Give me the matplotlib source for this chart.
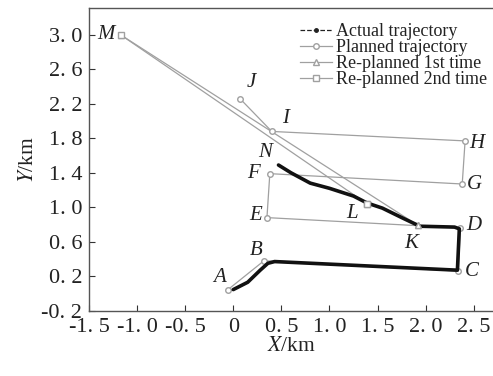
import matplotlib
matplotlib.use("Agg")
import matplotlib.pyplot as plt
from matplotlib.lines import Line2D

# waypoints (km)
planned_x = [-0.06, 0.32, 2.34, 2.36, 0.35, 0.38, 2.38, 2.41, 0.40, 0.07]
planned_y = [0.04, 0.38, 0.26, 0.76, 0.88, 1.39, 1.27, 1.77, 1.88, 2.26]

replan1_x = [1.92, -1.17]   # K -> M
replan1_y = [0.79, 3.00]
replan2_x = [1.39, -1.17]   # L -> M
replan2_y = [1.04, 3.00]

actual_x = [0.00, 0.15, 0.28, 0.36, 0.43, 2.33, 2.35, 2.30, 1.94, 1.77, 1.55,
            1.39, 1.25, 1.00, 0.80, 0.60, 0.47]
actual_y = [0.045, 0.13, 0.27, 0.35, 0.37, 0.27, 0.75, 0.77, 0.78, 0.87, 0.99,
            1.05, 1.13, 1.22, 1.28, 1.40, 1.49]

point_names = ["A", "B", "C", "D", "E", "F", "G", "H", "I", "J", "K", "L", "M", "N"]
name_x = [-0.14, 0.24, 2.48, 2.50, 0.23, 0.21, 2.51, 2.53, 0.54, 0.19, 1.85, 1.23, -1.32, 0.33]
name_y = [0.18, 0.50, 0.25, 0.79, 0.90, 1.39, 1.26, 1.74, 2.03, 2.45, 0.58, 0.93, 3.00, 1.63]

xticks = [-1.5, -1.0, -0.5, 0, 0.5, 1.0, 1.5, 2.0, 2.5]
xtick_labels = ["-1. 5", "-1. 0", "-0. 5", "0", "0. 5", "1. 0", "1. 5", "2. 0", "2. 5"]
yticks = [-0.2, 0.2, 0.6, 1.0, 1.4, 1.8, 2.2, 2.6, 3.0]
ytick_labels = ["-0. 2", "0. 2", "0. 6", "1. 0", "1. 4", "1. 8", "2. 2", "2. 6", "3. 0"]

plt.rcParams['font.family'] = ['Liberation Serif', 'DejaVu Serif']
plt.rcParams['mathtext.fontset'] = 'stix'

fig = plt.figure(figsize=(4.93, 3.76), dpi=100)
ax = fig.add_axes([0.1805, 0.1737, 0.8195, 0.805])

gray = '#a0a0a0'
ms = 4
ax.plot(replan1_x, replan1_y, color=gray, lw=0.9, marker='^', ms=ms,
        mfc='white', mec=gray, zorder=2)
ax.plot(replan2_x, replan2_y, color=gray, lw=0.9, marker='s', ms=ms,
        mfc='white', mec=gray, zorder=2)
ax.plot(planned_x, planned_y, color=gray, lw=0.9, marker='o', ms=ms,
        mfc='white', mec=gray, zorder=2)
ax.plot(actual_x, actual_y, color='#111111', lw=2.6, solid_capstyle='round',
        solid_joinstyle='round', zorder=3)
# markers drawn over the thick line
ax.plot([replan2_x[0]], [replan2_y[0]], 's', ms=ms, mfc='white', mec=gray, zorder=4)
ax.plot([replan1_x[0]], [replan1_y[0]], '^', ms=ms, mfc='white', mec=gray, zorder=4)

for name, nx, ny in zip(point_names, name_x, name_y):
    ax.text(nx, ny, name, fontsize=15, style='italic', ha='center', va='center',
            color='#222222')

ax.set_xlim(-1.5, 2.70)
ax.set_ylim(-0.2, 3.312)
ax.set_xticks(xticks)
ax.set_xticklabels(xtick_labels)
ax.set_yticks(yticks)
ax.set_yticklabels(ytick_labels)
ax.tick_params(direction='in', length=4, width=0.8, labelsize=16, colors='#333333',
               labelcolor='#222222', pad=5)
ax.spines['right'].set_visible(False)
for s in ['left', 'bottom', 'top']:
    ax.spines[s].set_color('#555555')
    ax.spines[s].set_linewidth(1.0)

ax.set_xlabel("$X$/km", fontsize=15.5, labelpad=0, color='#222222')
ax.set_ylabel("$Y$/km", fontsize=15.5, labelpad=2, color='#222222')

handles = [
    Line2D([], [], color='#222222', lw=0.9, ls='--', marker='o', ms=2.5),
    Line2D([], [], color=gray, lw=0.9, marker='o', ms=ms, mfc='white'),
    Line2D([], [], color=gray, lw=0.9, marker='^', ms=ms, mfc='white'),
    Line2D([], [], color=gray, lw=0.9, marker='s', ms=ms, mfc='white'),
]
labels = ["Actual trajectory", "Planned trajectory", "Re-planned 1st time",
          "Re-planned 2nd time"]
leg = ax.legend(handles, labels, loc='upper right',
                bbox_to_anchor=(487 / 493, (376 - 23) / 376),
                bbox_transform=fig.transFigure, frameon=False, fontsize=13,
                handlelength=1.8, handletextpad=0.2, labelspacing=-0.05,
                borderpad=0.0, borderaxespad=0.0)
for t in leg.get_texts():
    t.set_color('#222222')

fig.savefig("out.png", dpi=100)
